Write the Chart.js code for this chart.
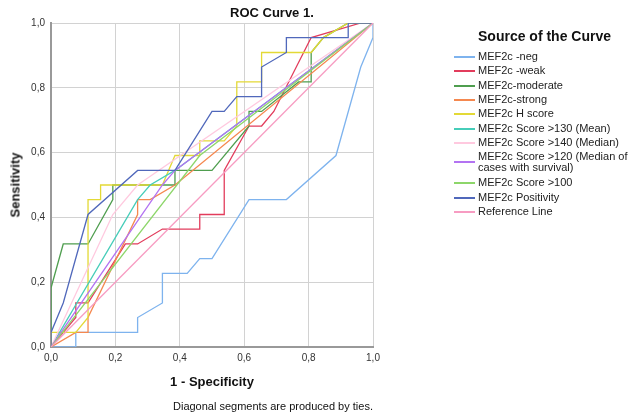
<!DOCTYPE html>
<html>
<head>
<meta charset="utf-8">
<script src="https://cdn.jsdelivr.net/npm/chart.js@4.4.1/dist/chart.umd.min.js"></script>
<style>
    body { margin: 0; background: #fff; font-family: "Liberation Sans", Arial, sans-serif; }
    #caixa { position: relative; width: 631px; height: 418px; overflow: hidden; }
    #grafico { position: absolute; left: 0; top: 0; }
    .texto { position: absolute; white-space: nowrap; color: #111; }
    .negrito { font-weight: bold; }
    .amostra { position: absolute; height: 2px; width: 21px; left: 454px; }
</style>
</head>
<body>
<div id="caixa">
    <canvas id="grafico" width="631" height="418"></canvas>
    <div class="texto negrito" style="font-size:13px; left:230px; top:5px;">ROC Curve 1.</div>
    <div class="texto negrito" style="font-size:13px; left:15px; top:185px; transform:translate(-50%,-50%) rotate(-90deg);">Sensitivity</div>
    <div class="texto negrito" style="font-size:13px; left:212px; top:374px; transform:translateX(-50%);">1 - Specificity</div>
    <div class="texto" style="font-size:11px; left:173px; top:400px;">Diagonal segments are produced by ties.</div>
    <div class="texto negrito" style="font-size:14px; left:478px; top:28px;">Source of the Curve</div>
    <div id="legenda"></div>
</div>

<script>
// curvas ROC: pares [1 - especificidade, sensibilidade]
const neg = [[0,0],[0.077,0],[0.077,0.045],[0.269,0.045],[0.269,0.091],[0.346,0.136],[0.346,0.227],[0.423,0.227],[0.462,0.273],[0.5,0.273],[0.615,0.455],[0.731,0.455],[0.885,0.591],[0.962,0.864],[1,0.955],[1,1]];
const weak = [[0,0],[0.077,0.091],[0.077,0.136],[0.115,0.136],[0.231,0.318],[0.269,0.318],[0.346,0.364],[0.462,0.364],[0.462,0.409],[0.538,0.409],[0.538,0.545],[0.615,0.682],[0.654,0.682],[0.692,0.727],[0.808,0.955],[0.962,1],[1,1]];
const moderate = [[0,0],[0,0.182],[0.038,0.318],[0.115,0.318],[0.192,0.455],[0.192,0.5],[0.385,0.5],[0.385,0.545],[0.5,0.545],[0.615,0.682],[0.615,0.727],[0.654,0.727],[0.769,0.818],[0.808,0.818],[0.808,0.909],[0.846,0.955],[0.923,1],[1,1]];
const strong = [[0,0],[0.077,0.045],[0.115,0.045],[0.115,0.091],[0.269,0.409],[0.269,0.455],[0.308,0.455],[0.385,0.5],[1,1]];
const hScore = [[0,0],[0,0.045],[0.077,0.045],[0.115,0.091],[0.115,0.455],[0.154,0.455],[0.154,0.5],[0.346,0.5],[0.385,0.591],[0.462,0.591],[0.462,0.636],[0.538,0.636],[0.577,0.682],[0.577,0.818],[0.654,0.818],[0.654,0.909],[0.808,0.909],[0.846,0.955],[0.923,1],[1,1]];
const score130 = [[0,0],[0.269,0.455],[0.308,0.5],[0.385,0.545],[1,1]];
const score140 = [[0,0],[0.192,0.409],[0.269,0.5],[1,1]];
const score120 = [[0,0],[0.346,0.5],[0.385,0.545],[1,1]];
const score100 = [[0,0],[0.462,0.591],[1,1]];
const positivity = [[0,0],[0,0.045],[0.038,0.136],[0.115,0.409],[0.269,0.545],[0.385,0.545],[0.5,0.727],[0.538,0.727],[0.577,0.773],[0.654,0.773],[0.654,0.864],[0.731,0.909],[0.731,0.955],[0.923,0.955],[0.923,1],[1,1]];
const referencia = [[0,0],[1,1]];

const curvas = [neg, weak, moderate, strong, hScore, score130, score140, score120, score100, positivity, referencia];

const nomes = ['MEF2c -neg', 'MEF2c -weak', 'MEF2c-moderate', 'MEF2c-strong', 'MEF2c H score',
    'MEF2c Score >130 (Mean)', 'MEF2c Score >140 (Median)',
    ['MEF2c Score >120 (Median of', 'cases with survival)'],
    'MEF2c Score >100', 'MEF2c Positivity', 'Reference Line'];

const cores = ['#7eb3ee', '#e23c5c', '#4f9e4f', '#f5884f', '#e3d936', '#46cdb9',
    '#ffc9df', '#b373f2', '#8dd66a', '#5068bb', '#f79cc2'];

const marcas = [0, 0.2, 0.4, 0.6, 0.8, 1.0];

const fonte = '"Liberation Sans", Arial, sans-serif';
const virgula = v => Number(v).toFixed(1).replace('.', ',');

// legenda montada à mão (o item 8 ocupa duas linhas)
const legenda = document.getElementById('legenda');
let y = 50;
nomes.forEach((nome, i) => {
    const linhas = Array.isArray(nome) ? nome : [nome];
    const sw = document.createElement('div');
    sw.className = 'amostra';
    sw.style.background = cores[i];
    sw.style.top = (y + 6 + (linhas.length - 1) * 4.5) + 'px';
    legenda.appendChild(sw);
    linhas.forEach((l, j) => {
        const t = document.createElement('div');
        t.className = 'texto';
        t.style.fontSize = '11px';
        t.style.left = (j === 0 ? 478 : 478) + 'px';
        t.style.top = (y + j * 11) + 'px';
        t.style.color = '#222';
        t.textContent = l;
        legenda.appendChild(t);
    });
    y += 14.35 + (linhas.length - 1) * 11.5;
});

const ctx = document.getElementById('grafico');
new Chart(ctx, {
    type: 'scatter',
    data: {
        datasets: curvas.map((c, i) => ({
            label: Array.isArray(nomes[i]) ? nomes[i].join(' ') : nomes[i],
            data: c.map(p => ({ x: p[0], y: p[1] })),
            showLine: true,
            borderColor: cores[i],
            backgroundColor: cores[i],
            borderWidth: 1.3,
            pointRadius: 0,
            tension: 0,
            fill: false,
            order: -i
        }))
    },
    options: {
        responsive: false,
        animation: false,
        layout: { padding: { left: 0, top: 23, right: 258, bottom: 0 } },
        plugins: { legend: { display: false }, tooltip: { enabled: false } },
        scales: {
            x: {
                type: 'linear', min: 0, max: 1,
                afterBuildTicks: s => { s.ticks = marcas.map(v => ({ value: v })); },
                ticks: { callback: virgula, font: { family: fonte, size: 10 }, color: '#333', padding: 5, maxRotation: 0, autoSkip: false },
                grid: { color: '#d2d2d2', lineWidth: 1, drawTicks: false },
                border: { color: '#999', width: 2 },
                afterFit: s => { s.height = 71; }
            },
            y: {
                type: 'linear', min: 0, max: 1,
                afterBuildTicks: s => { s.ticks = marcas.map(v => ({ value: v })); },
                ticks: { callback: virgula, font: { family: fonte, size: 10 }, color: '#333', padding: 6, autoSkip: false },
                grid: { color: '#d2d2d2', lineWidth: 1, drawTicks: false },
                border: { color: '#999', width: 2 },
                afterFit: s => { s.width = 51; }
            }
        }
    }
});
</script>
</body>
</html>
